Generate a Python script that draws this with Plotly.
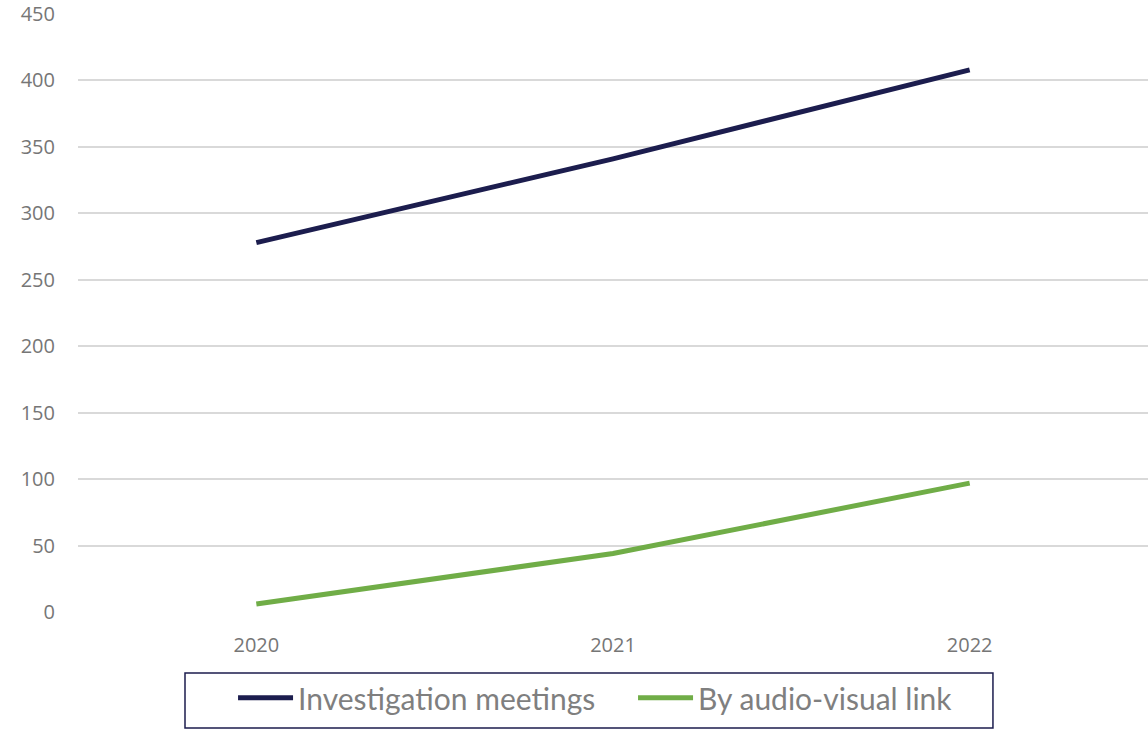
import plotly.graph_objects as go

years = ["2020", "2021", "2022"]
investigation = [278, 341, 408]
audio_visual = [6, 44, 97]
y_ticks = [0, 50, 100, 150, 200, 250, 300, 350, 400, 450]

fig = go.Figure()
fig.add_trace(go.Scatter(x=years, y=investigation, mode="lines", name="Investigation meetings",
                         line=dict(color="#1C1D4E", width=5)))
fig.add_trace(go.Scatter(x=years, y=audio_visual, mode="lines", name="By audio-visual link",
                         line=dict(color="#70AD47", width=5)))

# legend frame
fig.add_shape(type="rect", xref="paper", yref="paper", x0=0.1, x1=0.8551, y0=-0.194, y1=-0.102,
              line=dict(color="#1C1D4E", width=1.5), fillcolor="rgba(0,0,0,0)", layer="above")

fig.update_layout(
    width=1148, height=730,
    margin=dict(l=78, r=0, t=14, b=118),
    paper_bgcolor="white", plot_bgcolor="white",
    font=dict(family="Open Sans", color="#767676", size=20),
    xaxis=dict(type="category", range=[-0.5, 2.5], showgrid=False, zeroline=False,
               showline=False, ticks="", ticklabelstandoff=19,
               tickfont=dict(size=20, color="#767676")),
    yaxis=dict(range=[0, 450], tickvals=y_ticks, showgrid=True, gridcolor="#D9D9D9",
               gridwidth=1.5, zeroline=False, showline=False, ticks="",
               ticklabelstandoff=22, tickfont=dict(size=20, color="#767676")),
    showlegend=True,
    legend=dict(orientation="h", x=0.1449, xanchor="left", y=-0.1, yanchor="top",
                borderwidth=0, bgcolor="rgba(0,0,0,0)",
                font=dict(family="Lato", size=30, color="#7F7F7F"),
                itemwidth=55, entrywidth=330),
)
fig.write_html("out.html")
